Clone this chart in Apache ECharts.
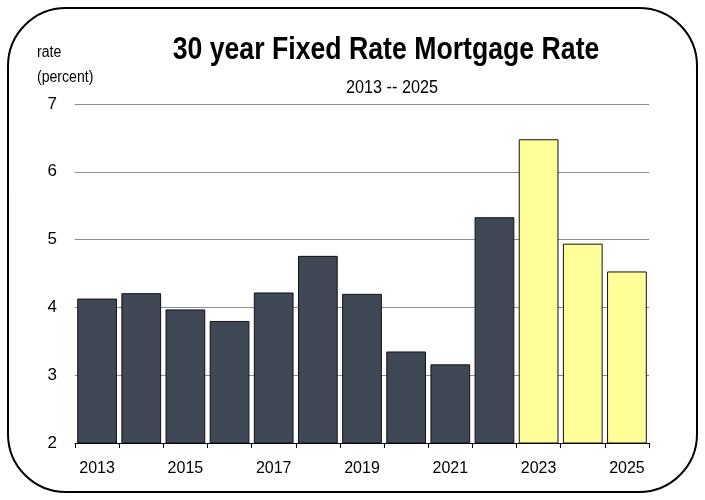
<!DOCTYPE html>
<html>
<head>
<meta charset="utf-8">
<script src="https://cdn.jsdelivr.net/npm/echarts@6/dist/echarts.min.js"></script>
<style>
html,body{margin:0;padding:0;background:#fff;}
#chart{width:705px;height:500px;}
</style>
</head>
<body>
<div id="chart"></div>
<script>
var years = ['2013','2014','2015','2016','2017','2018','2019','2020','2021','2022','2023','2024','2025'];
var rates = [4.13, 4.21, 3.97, 3.80, 4.22, 4.76, 4.20, 3.35, 3.16, 5.33, 6.48, 4.94, 4.53];
var highlightedYears = ['2023','2024','2025'];
var yTicks = [2, 3, 4, 5, 6, 7];
var titleText = '30 year Fixed Rate Mortgage Rate';
var subtitleText = '2013 -- 2025';
var yNameLines = ['rate', '(percent)'];

var FONT = "'Liberation Sans', Arial, sans-serif";
var DARK = '#404855';
var YELLOW = '#ffff99';

var chart = echarts.init(document.getElementById('chart'), null, {renderer: 'canvas'});
chart.setOption({
  animation: false,
  backgroundColor: '#ffffff',
  graphic: [
    {type: 'rect', shape: {x: 8, y: 8, width: 689, height: 484, r: 58},
     style: {fill: 'none', stroke: '#000', lineWidth: 2}, silent: true, z: 100},
    {type: 'text', x: 386, y: 50, scaleX: 0.86,
     style: {text: titleText, font: 'bold 31px ' + FONT, fill: '#000', textAlign: 'center', textVerticalAlign: 'middle'}},
    {type: 'text', x: 392, y: 88, scaleX: 0.9,
     style: {text: subtitleText, font: '18px ' + FONT, fill: '#000', textAlign: 'center', textVerticalAlign: 'middle'}},
    {type: 'text', x: 37, y: 53, scaleX: 0.88,
     style: {text: yNameLines[0], font: '16px ' + FONT, fill: '#000', textAlign: 'left', textVerticalAlign: 'middle'}},
    {type: 'text', x: 37, y: 78, scaleX: 0.88,
     style: {text: yNameLines[1], font: '16px ' + FONT, fill: '#000', textAlign: 'left', textVerticalAlign: 'middle'}}
  ],
  grid: {left: 75, right: 56, top: 104, bottom: 57, containLabel: false},
  xAxis: {
    type: 'category',
    data: years,
    boundaryGap: true,
    axisLine: {lineStyle: {color: '#000', width: 1}},
    axisTick: {show: true, interval: 0, length: 5, lineStyle: {color: '#000'}},
    axisLabel: {interval: 1, fontFamily: FONT, fontSize: 16, color: '#000', margin: 18}
  },
  yAxis: {
    type: 'value',
    min: yTicks[0],
    max: yTicks[yTicks.length - 1],
    interval: 1,
    axisLine: {show: false},
    axisTick: {show: false},
    axisLabel: {fontFamily: FONT, fontSize: 17, color: '#000', margin: 18},
    splitLine: {lineStyle: {color: '#8c8c8c', width: 1}}
  },
  series: [{
    type: 'bar',
    data: rates,
    barCategoryGap: '10%',
    itemStyle: {
      color: function (p) { return highlightedYears.indexOf(years[p.dataIndex]) >= 0 ? YELLOW : DARK; },
      borderColor: '#111',
      borderWidth: 1
    }
  }]
});
</script>
</body>
</html>
